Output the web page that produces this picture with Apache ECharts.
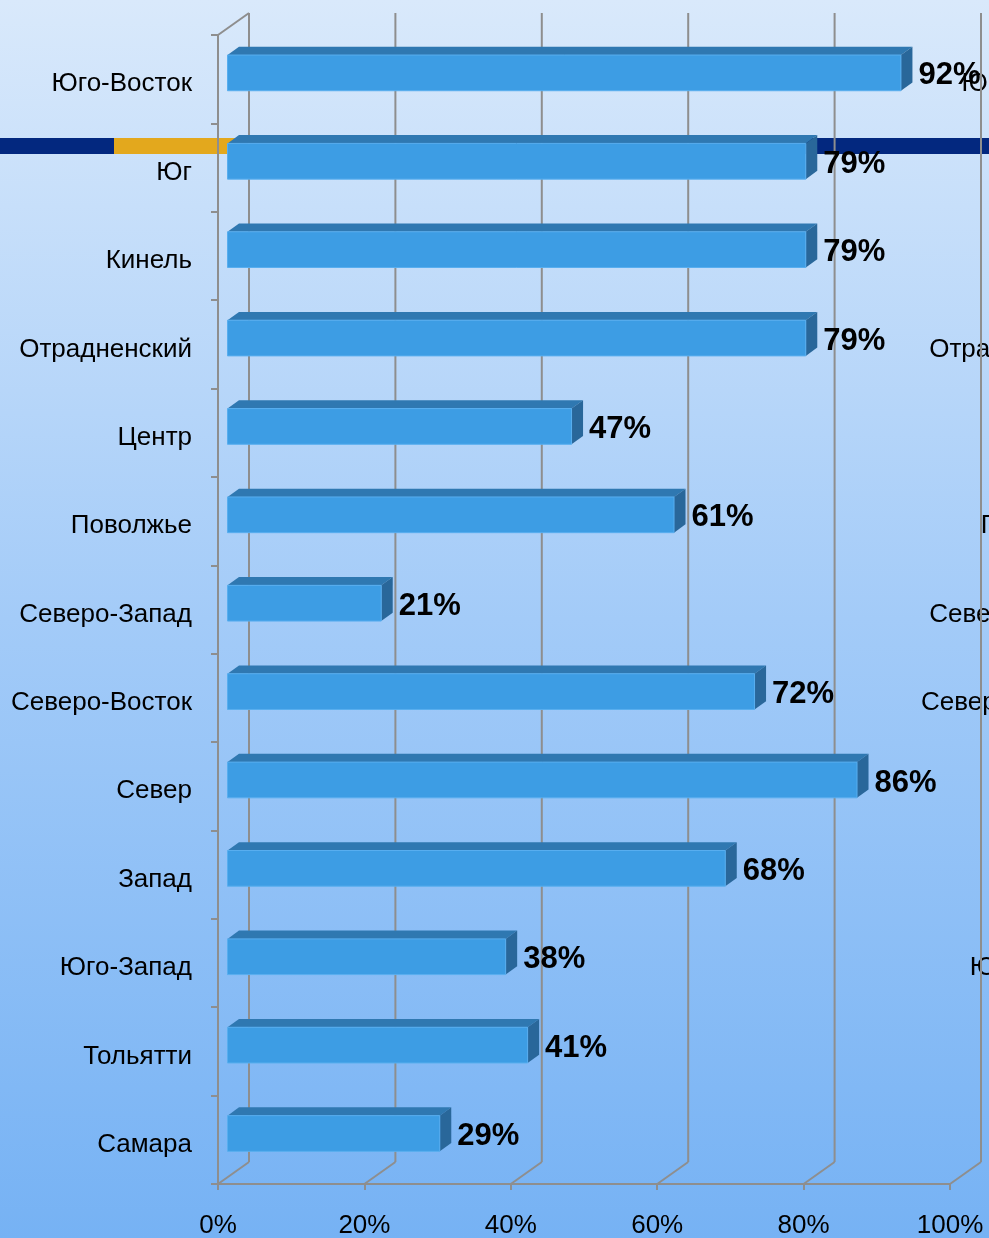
<!DOCTYPE html>
<html>
<head>
<meta charset="utf-8">
<script src="https://cdn.jsdelivr.net/npm/echarts@6/dist/echarts.min.js"></script>
<style>
html,body{margin:0;padding:0;}
#chart{width:989px;height:1238px;}
</style>
</head>
<body>
<div id="chart"></div>
<script>
const categories = ['Юго-Восток','Юг','Кинель','Отрадненский','Центр','Поволжье','Северо-Запад','Северо-Восток','Север','Запад','Юго-Запад','Тольятти','Самара'];
const values = [92,79,79,79,47,61,21,72,86,68,38,41,29];
const xTickValues = [0,20,40,60,80,100];

const FONT = "'Liberation Sans', Arial, sans-serif";
const GRAY = '#8e8e8e';
const DEPTH = [31, -22];      // full wall depth offset
const BAR_FRONT = [9.5, -6.3]; // bar front face offset
const BAR_DEPTH = [11.5, -8.3];

const chart = echarts.init(document.getElementById('chart'), null, {renderer:'canvas'});

const yLabel = {fontSize: 26, color: '#000', fontFamily: FONT, margin: 26, interval: 0, verticalAlign: 'top', lineHeight: 10};

const option = {
  animation: false,
  backgroundColor: {
    type: 'linear', x: 0, y: 0, x2: 0, y2: 1,
    colorStops: [
      {offset: 0, color: '#d9e9fb'},
      {offset: 0.5, color: '#a3cbf8'},
      {offset: 1, color: '#76b2f4'}
    ]
  },
  graphic: [
    {type:'rect', z:0, shape:{x:0, y:138, width:114, height:16}, style:{fill:'#03287f'}},
    {type:'rect', z:0, shape:{x:114, y:138, width:126, height:16}, style:{fill:'#e3a81d'}},
    {type:'rect', z:0, shape:{x:240, y:138, width:749, height:16}, style:{fill:'#03287f'}}
  ],
  grid: {left: 218, top: 35, right: 39, bottom: 54, containLabel: false, outerBoundsMode: 'none'},
  xAxis: {
    type: 'value', min: 0, max: 100, interval: 20,
    axisLine: {show: true, lineStyle: {color: GRAY, width: 2}},
    axisTick: {show: true, length: 6, lineStyle: {color: GRAY, width: 2}},
    splitLine: {show: false},
    axisLabel: {formatter: '{value}%', fontSize: 26, color: '#000', fontFamily: FONT, margin: 29}
  },
  yAxis: [
    {
      type: 'category', data: categories, inverse: true,
      axisLine: {show: true, lineStyle: {color: GRAY, width: 2}},
      axisTick: {show: true, length: 7, lineStyle: {color: GRAY, width: 2}},
      axisLabel: yLabel
    },
    {
      type: 'category', data: categories, inverse: true, position: 'left', offset: -910,
      axisLine: {show: false}, axisTick: {show: false}, splitLine: {show: false},
      axisLabel: yLabel
    }
  ],
  series: [
    {
      type: 'custom', z: 2,
      data: xTickValues.map(v => [v]),
      encode: {x: 0},
      renderItem: function (params, api) {
        const cs = params.coordSys;
        const v = api.value(0);
        const x = api.coord([v, 0])[0];
        const top = cs.y, bot = cs.y + cs.height;
        const children = [
          {type: 'line', shape: {x1: x + DEPTH[0], y1: top + DEPTH[1], x2: x + DEPTH[0], y2: bot + DEPTH[1]}, style: {stroke: GRAY, lineWidth: 2}},
          {type: 'line', shape: {x1: x, y1: bot, x2: x + DEPTH[0], y2: bot + DEPTH[1]}, style: {stroke: GRAY, lineWidth: 2}}
        ];
        if (v === 0) {
          children.push({type: 'line', shape: {x1: x, y1: top, x2: x + DEPTH[0], y2: top + DEPTH[1]}, style: {stroke: GRAY, lineWidth: 2}});
        }
        return {type: 'group', children: children};
      }
    },
    {
      type: 'custom', z: 3,
      data: values.map((v, i) => [v, i]),
      encode: {x: 0, y: 1},
      renderItem: function (params, api) {
        const val = api.value(0);
        const idx = api.value(1);
        const c0 = api.coord([0, idx]);
        const c1 = api.coord([val, idx]);
        const band = api.size([0, 1])[1];
        const h = band * 0.404;
        const x0 = c0[0] + BAR_FRONT[0];
        const x1 = c1[0] + BAR_FRONT[0];
        const yc = c0[1] + BAR_FRONT[1];
        const t = yc - h / 2, b = yc + h / 2;
        const dx = BAR_DEPTH[0], dy = BAR_DEPTH[1];
        return {
          type: 'group',
          children: [
            {type: 'polygon', shape: {points: [[x0, t], [x1, t], [x1 + dx, t + dy], [x0 + dx, t + dy]]}, style: {fill: '#2f78b1'}},
            {type: 'polygon', shape: {points: [[x1, t], [x1 + dx, t + dy], [x1 + dx, b + dy], [x1, b]]}, style: {fill: '#29679a'}},
            {type: 'rect', shape: {x: x0, y: t, width: x1 - x0, height: h}, style: {fill: '#3d9de4', stroke: '#58aeef', lineWidth: 1}},
            {type: 'text', x: x1 + dx + 6, y: yc + 3, style: {text: val + '%', fill: '#000', font: 'bold 31px ' + FONT, textAlign: 'left', textVerticalAlign: 'middle'}}
          ]
        };
      }
    }
  ]
};
chart.setOption(option);
</script>
</body>
</html>
